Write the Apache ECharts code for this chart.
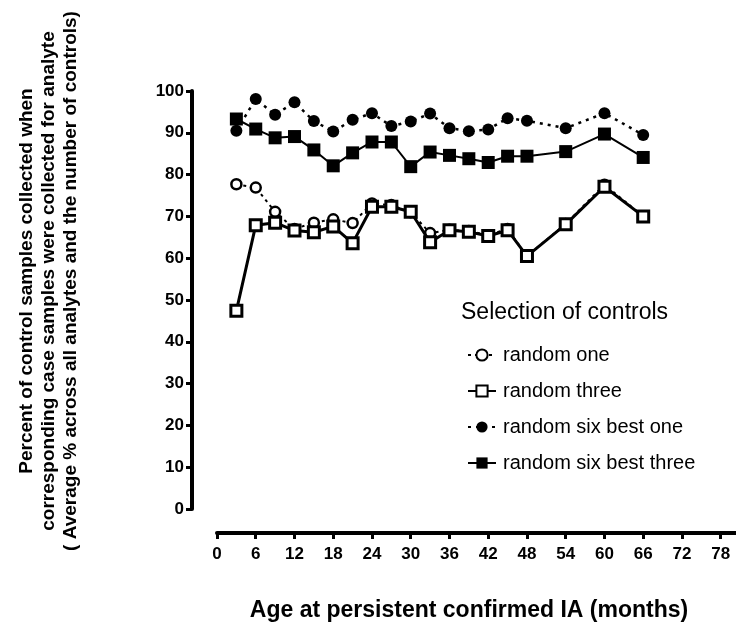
<!DOCTYPE html>
<html>
<head>
<meta charset="utf-8">
<script src="https://cdn.jsdelivr.net/npm/echarts@6/dist/echarts.min.js"></script>
<style>
  html, body { margin: 0; padding: 0; background: #fff; }
  #chart { width: 736px; height: 630px; }
</style>
</head>
<body>
<div id="chart"></div>
<script>
// months since birth (x) and averaged percentages (y)
const months = [3, 6, 9, 12, 15, 18, 21, 24, 27, 30, 33, 36, 39, 42, 45, 48, 54, 60, 66]
const randomOne = [77.7, 76.9, 71.1, 67.0, 68.5, 69.3, 68.4, 73.1, 72.7, 71.0, 66.0, 66.8, 66.5, 65.5, 67.0, 60.5, 68.2, 77.6, 70.0]
const randomThree = [47.4, 67.9, 68.5, 66.6, 66.2, 67.6, 63.6, 72.3, 72.3, 71.1, 63.8, 66.7, 66.3, 65.3, 66.7, 60.5, 68.1, 77.1, 70.0]
const sixBestOne = [90.5, 98.1, 94.3, 97.3, 92.8, 90.3, 93.1, 94.7, 91.6, 92.7, 94.6, 91.1, 90.4, 90.8, 93.5, 92.9, 91.1, 94.7, 89.5]
const sixBestThree = [93.3, 90.9, 88.8, 89.1, 85.9, 82.1, 85.2, 87.8, 87.8, 81.9, 85.4, 84.6, 83.8, 82.9, 84.4, 84.4, 85.5, 89.7, 84.1]
const xTicks = [0, 6, 12, 18, 24, 30, 36, 42, 48, 54, 60, 66, 72, 78]

const font = 'Liberation Sans, Arial, sans-serif'
const pair = arr => months.map((m, i) => [m, arr[i]])

const chart = echarts.init(document.getElementById('chart'))

chart.setOption({
  backgroundColor: '#fff',
  animation: false,
  textStyle: { fontFamily: font, color: '#000' },
  title: {
    text: 'Selection of controls',
    left: 456,
    top: 296,
    textStyle: { fontFamily: font, fontSize: 23, fontWeight: 'normal', color: '#000' }
  },
  legend: {
    orient: 'vertical',
    left: 462,
    top: 338,
    itemWidth: 28,
    itemHeight: 14,
    itemGap: 12,
    textStyle: { fontFamily: font, fontSize: 20, color: '#000', lineHeight: 24, padding: [0, 0, 0, 2] },
    data: ['random one', 'random three', 'random six best one', 'random six best three']
  },
  grid: { left: 217, right: 0, top: 91, bottom: 121 },
  xAxis: {
    type: 'value',
    min: 0,
    max: 80.37,
    interval: 6,
    offset: 24,
    splitLine: { show: false },
    axisLine: { onZero: false, lineStyle: { color: '#000', width: 4 } },
    axisTick: { length: 6, lineStyle: { color: '#000', width: 3 }, customValues: xTicks },
    axisLabel: { customValues: xTicks, margin: 13, fontFamily: font, fontSize: 17, fontWeight: 'bold', color: '#000' }
  },
  yAxis: {
    type: 'value',
    min: 0,
    max: 100,
    interval: 10,
    offset: 25,
    splitLine: { show: false },
    axisLine: { show: true, onZero: false, lineStyle: { color: '#000', width: 4 } },
    axisTick: { show: true, length: 6, lineStyle: { color: '#000', width: 3 } },
    axisLabel: { margin: 8, fontFamily: font, fontSize: 17, fontWeight: 'bold', color: '#000' }
  },
  graphic: [
    {
      type: 'text',
      x: 49,
      y: 281,
      rotation: Math.PI / 2,
      style: {
        text: 'Percent of control samples collected when\ncorresponding case samples were collected for analyte\n( Average % across all analytes and the number of controls)',
        font: 'bold 19px ' + font,
        fill: '#000',
        align: 'center',
        verticalAlign: 'middle',
        lineHeight: 22
      }
    },
    {
      type: 'text',
      x: 469,
      y: 611,
      style: {
        text: 'Age at persistent confirmed IA (months)',
        font: 'bold 23px ' + font,
        fill: '#000',
        align: 'center',
        verticalAlign: 'middle'
      }
    }
  ],
  series: [
    {
      name: 'random one',
      type: 'line',
      data: pair(randomOne),
      symbol: 'circle',
      symbolSize: 10,
      itemStyle: { color: '#fff', borderColor: '#000', borderWidth: 2.5 },
      lineStyle: { color: '#000', width: 2, type: [3, 4] },
      z: 2
    },
    {
      name: 'random three',
      type: 'line',
      data: pair(randomThree),
      symbol: 'rect',
      symbolSize: 11,
      itemStyle: { color: '#fff', borderColor: '#000', borderWidth: 3 },
      lineStyle: { color: '#000', width: 3 },
      z: 3
    },
    {
      name: 'random six best one',
      type: 'line',
      data: pair(sixBestOne),
      symbol: 'circle',
      symbolSize: 12,
      itemStyle: { color: '#000' },
      lineStyle: { color: '#000', width: 2.5, type: [3, 5] },
      z: 4
    },
    {
      name: 'random six best three',
      type: 'line',
      data: pair(sixBestThree),
      symbol: 'rect',
      symbolSize: 13,
      itemStyle: { color: '#000' },
      lineStyle: { color: '#000', width: 2 },
      z: 5
    }
  ]
})
</script>
</body>
</html>
